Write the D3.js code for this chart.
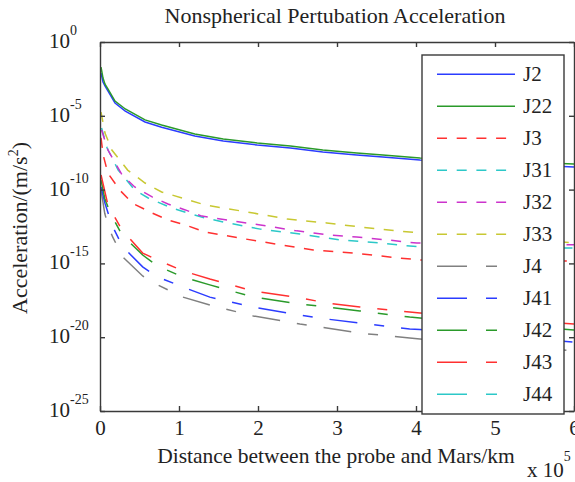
<!DOCTYPE html>
<html lang="en">
<head>
<meta charset="UTF-8" />
<title>Nonspherical Pertubation Acceleration</title>
<style>
  body { margin: 0; background: #fff; }
  text { font-family: "Liberation Serif", "Times New Roman", serif; fill: #222; }
</style>
</head>
<body>
<div id="chart"></div>
<script src="https://cdn.jsdelivr.net/npm/d3@7"></script>
<script>

// series names, colours and legend order
var seriesNames = ["J2", "J22", "J3", "J31", "J32", "J33", "J4", "J41", "J42", "J43", "J44"];
var seriesColors = ["#2b3cff", "#2a9a2a", "#ff3030", "#2cc8c8", "#cc33cc", "#c8c832",
                    "#808080", "#2b3cff", "#2a9a2a", "#ff3030", "#2cc8c8"];

// distance (x 10^5 km) and acceleration (m/s^2)
var j2Dist  = [0.013, 0.038, 0.063, 0.10, 0.19, 0.32, 0.57, 0.78, 1.20, 1.56, 1.99, 2.41, 2.82, 3.25, 3.58, 4.05, 6.0];
var j2Acc   = [7.9e-3, 1.95e-3, 1.05e-3, 4.8e-4, 7.4e-5, 2.1e-5, 3.8e-6, 1.7e-6, 4.3e-7, 1.95e-7, 1.05e-7, 6.6e-8, 3.5e-8, 2.2e-8, 1.6e-8, 1.0e-8, 3.4e-9];
var j22Dist = [0.013, 0.038, 0.063, 0.10, 0.19, 0.32, 0.57, 0.78, 1.20, 1.56, 1.99, 2.41, 2.82, 3.25, 3.58, 4.05, 6.0];
var j22Acc  = [2.0e-2, 3.6e-3, 1.4e-3, 6.6e-4, 1.0e-4, 2.9e-5, 5.3e-6, 2.4e-6, 5.9e-7, 2.7e-7, 1.45e-7, 8.9e-8, 4.8e-8, 3.0e-8, 2.2e-8, 1.4e-8, 5.4e-9];

var j3Dist  = [0.013, 0.04, 0.10, 0.25, 0.41, 0.66, 0.86, 1.08, 1.33, 1.77, 2.24, 2.70, 3.20, 3.80, 4.05, 6.0];
var j3Acc   = [3.2e-7, 2.2e-8, 1.3e-9, 9.3e-11, 1.2e-11, 2.6e-12, 8.7e-13, 4.0e-13, 1.35e-13, 5.2e-14, 2.0e-14, 8.1e-15, 5.0e-15, 2.3e-15, 1.7e-15, 1.45e-15];
var j31Dist = [0.02, 0.09, 0.23, 0.44, 0.61, 0.91, 1.11, 1.33, 1.56, 2.03, 2.53, 3.04, 3.54, 4.05, 6.0];
var j31Acc  = [1.5e-6, 6.6e-8, 2.1e-9, 9.3e-11, 2.7e-11, 5.6e-12, 2.6e-12, 1.2e-12, 6.3e-13, 2.1e-13, 9.8e-14, 3.9e-14, 2.4e-14, 1.3e-14, 1.1e-14];
var j32Dist = [0.02, 0.10, 0.28, 0.44, 0.66, 0.86, 1.08, 1.29, 1.77, 2.03, 2.49, 2.91, 3.25, 3.63, 4.01, 6.0];
var j32Acc  = [1.1e-6, 4.8e-8, 9.8e-10, 1.5e-10, 3.2e-11, 1.05e-11, 4.2e-12, 1.6e-12, 6.3e-13, 4.0e-13, 1.6e-13, 8.3e-14, 6.2e-14, 3.9e-14, 2.4e-14, 1.8e-14];
var j33Dist = [0.013, 0.063, 0.15, 0.35, 0.57, 0.78, 1.04, 1.33, 1.94, 2.37, 2.87, 3.29, 3.76, 4.05, 6.0];
var j33Acc  = [1.8e-5, 6.8e-7, 4.8e-8, 2.1e-9, 2.8e-10, 6.9e-11, 2.7e-11, 9.1e-12, 2.6e-12, 1.0e-12, 5.5e-13, 2.95e-13, 1.6e-13, 1.15e-13, 2.5e-14];

var j4Dist  = [0.013, 0.06, 0.10, 0.16, 0.29, 0.54, 0.73, 1.05, 1.39, 1.94, 2.53, 2.87, 3.29, 3.92, 4.05, 6.0];
var j4Acc   = [9.3e-11, 2.5e-12, 4.0e-13, 6.2e-14, 2.7e-15, 1.4e-16, 3.5e-17, 5.2e-18, 1.5e-18, 2.75e-19, 7.8e-20, 4.2e-20, 1.9e-20, 8.9e-21, 7.6e-21, 1.2e-21];
var j41Dist = [0.013, 0.063, 0.15, 0.29, 0.54, 0.73, 1.05, 1.39, 1.94, 2.53, 2.87, 3.29, 3.92, 4.05, 6.0];
var j41Acc  = [1.5e-10, 1.2e-11, 4.0e-13, 1.3e-14, 5.8e-16, 1.2e-16, 2.5e-17, 5.2e-18, 1.1e-18, 3.2e-19, 1.7e-19, 9.1e-20, 3.6e-20, 3.3e-20, 4.7e-21];
var j42Dist = [0.013, 0.06, 0.13, 0.28, 0.54, 0.73, 1.05, 1.39, 1.94, 2.53, 2.87, 3.29, 3.92, 4.05, 6.0];
var j42Acc  = [4.5e-10, 2.5e-11, 2.6e-12, 8.3e-14, 3.7e-15, 6.6e-16, 1.2e-16, 3.5e-17, 5.2e-18, 1.8e-18, 1.1e-18, 6.0e-19, 2.3e-19, 2.0e-19, 3.1e-20];
var j43Dist = [0.013, 0.10, 0.28, 0.54, 0.73, 1.05, 1.39, 1.94, 2.53, 2.87, 3.29, 3.92, 4.05, 6.0];
var j43Acc  = [9.8e-10, 9.1e-12, 1.8e-13, 5.0e-15, 1.7e-15, 3.1e-16, 8.7e-17, 1.35e-17, 4.6e-18, 2.1e-18, 1.1e-18, 5.1e-19, 4.4e-19, 7.8e-20];
// J44 is listed in the legend but no curve of it can be seen in the picture
var j44Dist = [];
var j44Acc  = [];

var xTicks = [0, 1, 2, 3, 4, 5, 6];
var yTicks = [1e0, 1e-5, 1e-10, 1e-15, 1e-20, 1e-25];
var yTickExp = ["0", "-5", "-10", "-15", "-20", "-25"];

var allDist = [j2Dist, j22Dist, j3Dist, j31Dist, j32Dist, j33Dist, j4Dist, j41Dist, j42Dist, j43Dist, j44Dist];
var allAcc  = [j2Acc, j22Acc, j3Acc, j31Acc, j32Acc, j33Acc, j4Acc, j41Acc, j42Acc, j43Acc, j44Acc];

// line styles: 0 solid, 1 dashed, 2 dash + short dash
var seriesStyle = [0, 0, 1, 1, 1, 1, 2, 2, 2, 2, 2];
var dashPlot   = ["none", "10,9.5", "28,17,10,17"];
var dashLegend = ["none", "10,9.7", "30,19,11,18"];

var W = 575, H = 482;
var pLeft = 100, pRight = 574, pTop = 42, pBottom = 411;

var svg = d3.select("#chart").append("svg")
  .attr("width", W)
  .attr("height", H);

var xScale = d3.scaleLinear().domain([0, 6]).range([pLeft, pRight]);
var yScale = d3.scaleLog().domain([1e-25, 1]).range([pBottom, pTop]);

svg.append("defs").append("clipPath").attr("id", "plotclip")
  .append("rect")
  .attr("x", pLeft).attr("y", pTop)
  .attr("width", pRight - pLeft).attr("height", pBottom - pTop);

// curves
var line = d3.line()
  .x(function(d) { return xScale(d[0]); })
  .y(function(d) { return yScale(d[1]); });

var curves = svg.append("g").attr("clip-path", "url(#plotclip)");
seriesNames.forEach(function(name, i) {
  var pts = allDist[i].map(function(x, k) { return [x, allAcc[i][k]]; });
  if (pts.length == 0) return;
  curves.append("path")
    .datum(pts)
    .attr("fill", "none")
    .attr("stroke", seriesColors[i])
    .attr("stroke-width", 1.5)
    .attr("stroke-dasharray", dashPlot[seriesStyle[i]])
    .attr("d", line);
});

// axes box with inward ticks
var axisColor = "#3a3a3a";
var xAxisB = d3.axisBottom(xScale).tickValues(xTicks).tickSizeInner(-5).tickSizeOuter(0).tickPadding(9)
  .tickFormat(function(d) { return d; });
var gx = svg.append("g").attr("transform", "translate(0," + pBottom + ")").call(xAxisB);
gx.selectAll("text").style("font-size", "21px").style("font-family", "Liberation Serif").attr("fill", "#222");

var xAxisT = d3.axisTop(xScale).tickValues(xTicks).tickSizeInner(-5).tickSizeOuter(0).tickFormat("");
svg.append("g").attr("transform", "translate(0," + pTop + ")").call(xAxisT);

var yAxisL = d3.axisLeft(yScale).tickValues(yTicks).tickSizeInner(-5).tickSizeOuter(0).tickFormat("");
svg.append("g").attr("transform", "translate(" + pLeft + ",0)").call(yAxisL);
var yAxisR = d3.axisRight(yScale).tickValues(yTicks).tickSizeInner(-5).tickSizeOuter(0).tickFormat("");
svg.append("g").attr("transform", "translate(" + pRight + ",0)").call(yAxisR);

svg.selectAll(".domain, .tick line").attr("stroke", axisColor).attr("stroke-width", 1.4);

// y tick labels: 10 with a superscript exponent
yTicks.forEach(function(v, i) {
  var t = svg.append("text")
    .attr("x", 49)
    .attr("y", yScale(v) + 6)
    .style("font-size", "21px");
  t.append("tspan").text("10");
  t.append("tspan").attr("dy", -13).style("font-size", "14px").text(yTickExp[i]);
});

// title and axis labels
svg.append("text")
  .attr("x", 335).attr("y", 23)
  .attr("text-anchor", "middle")
  .style("font-size", "22px")
  .text("Nonspherical Pertubation Acceleration");

svg.append("text")
  .attr("x", 336).attr("y", 463)
  .attr("text-anchor", "middle")
  .style("font-size", "21.5px")
  .text("Distance between the probe and Mars/km");

var mult = svg.append("text").attr("x", 527).attr("y", 477).style("font-size", "21px");
mult.append("tspan").text("x 10");
mult.append("tspan").attr("dy", -16).style("font-size", "14px").text("5");

var ylab = svg.append("text")
  .attr("transform", "translate(27,228) rotate(-90)")
  .attr("text-anchor", "middle")
  .style("font-size", "22px");
ylab.append("tspan").text("Acceleration/(m/s");
ylab.append("tspan").attr("dy", -9).style("font-size", "14px").text("2");
ylab.append("tspan").attr("dy", 9).text(")");

// legend
var lg = svg.append("g");
lg.append("rect")
  .attr("x", 422).attr("y", 55)
  .attr("width", 142).attr("height", 359)
  .attr("fill", "#fff")
  .attr("stroke", axisColor)
  .attr("stroke-width", 1.4);

seriesNames.forEach(function(name, i) {
  var ly = 74.3 + i * 32;
  lg.append("line")
    .attr("x1", 437).attr("x2", 515)
    .attr("y1", ly).attr("y2", ly)
    .attr("stroke", seriesColors[i])
    .attr("stroke-width", 1.5)
    .attr("stroke-dasharray", dashLegend[seriesStyle[i]]);
  lg.append("text")
    .attr("x", 523).attr("y", ly + 7)
    .style("font-size", "21px")
    .text(name);
});

</script>
</body>
</html>
